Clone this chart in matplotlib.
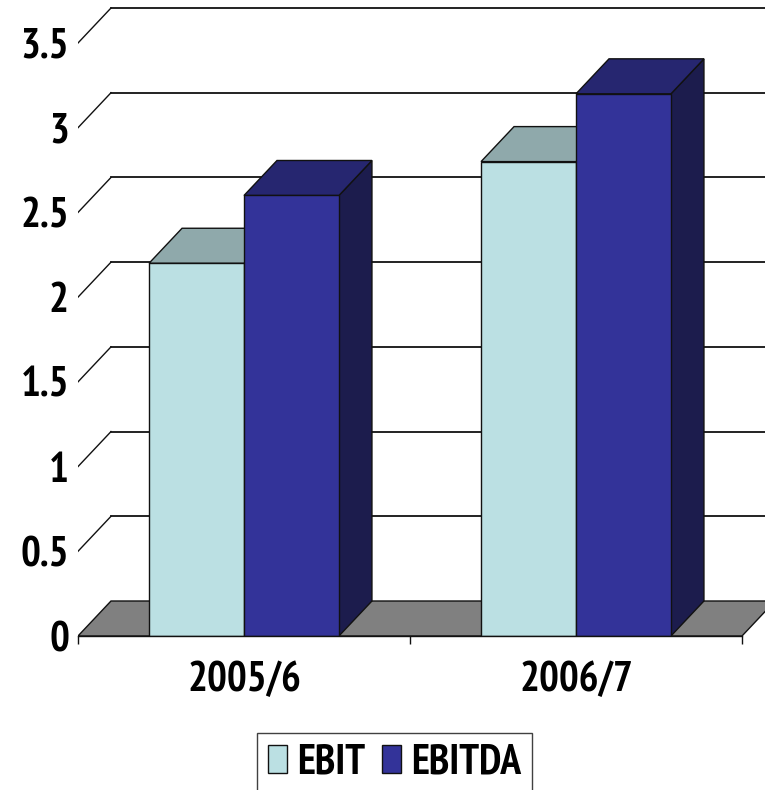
import matplotlib
matplotlib.use("Agg")
import matplotlib.pyplot as plt
from matplotlib.patches import Polygon, Patch
from matplotlib import font_manager

categories = ["2005/6", "2006/7"]
series_names = ["EBIT", "EBITDA"]
ebit = [2.2, 2.8]
ebitda = [2.6, 3.2]
y_ticks = [0, 0.5, 1, 1.5, 2, 2.5, 3, 3.5]
y_tick_labels = ["0", "0.5", "1", "1.5", "2", "2.5", "3", "3.5"]

front_colors = ["#BBE0E3", "#333399"]
top_colors = ["#8FA9AB", "#262670"]
side_colors = ["#8A9FA1", "#1C1C4D"]


def _weight(w):
    if isinstance(w, (int, float)):
        return w
    return {"bold": 700, "heavy": 800, "black": 900, "extra bold": 800,
            "semibold": 600, "demibold": 600}.get(str(w).lower(), 400)


# narrow bold sans for all labels, falling back to Liberation Sans
bold_names = {f.name for f in font_manager.fontManager.ttflist if _weight(f.weight) >= 700}
family = "Liberation Sans"
for cand in ["Liberation Sans Narrow", "Arial Narrow", "Arimo Narrow",
             "PT Sans Narrow", "Roboto Condensed", "Archivo Narrow",
             "Fira Sans Condensed", "IBM Plex Sans Condensed", "Encode Sans Condensed",
             "Asap Condensed", "Barlow Semi Condensed", "Sofia Sans Condensed",
             "Pragati Narrow", "Barlow Condensed"]:
    if cand in bold_names:
        family = cand
        break
plt.rcParams["font.family"] = [family, "DejaVu Sans"]
plt.rcParams["font.weight"] = "bold"

W, H, DPI = 765, 790, 100
fig = plt.figure(figsize=(W / DPI, H / DPI), dpi=DPI)
fig.patch.set_facecolor("white")

# front plane: category axis starts at 78 px, zero line at 636 px
ax_left, ax_bottom = 78, 636
ax = fig.add_axes([ax_left / W, (H - ax_bottom) / H, (W - ax_left) / W, ax_bottom / H])
px_per_x = 332.0
px_per_y = 593.0 / 3.5
ax.set_xlim(0, (W - ax_left) / px_per_x)
ax.set_ylim(0, ax_bottom / px_per_y)
ax.set_facecolor("white")

# oblique depth, expressed in data units
dx = 33 / px_per_x
dy = 35 / px_per_y
n_cat = len(categories)
bar_w = 0.286

# back-wall and side-wall gridlines
x_end = ax.get_xlim()[1] + 1
for v in y_ticks[1:]:
    ax.plot([dx, x_end], [v + dy, v + dy], color="#111111", lw=1.3, zorder=1)
    ax.plot([0, dx], [v, v + dy], color="#111111", lw=1.0, zorder=1)

# floor
floor = Polygon([(0, 0), (n_cat, 0), (n_cat + dx, dy), (dx, dy)], closed=True,
                facecolor="#808080", edgecolor="#111111", lw=1.0, zorder=2)
ax.add_patch(floor)


def draw_bar(x0, v, i):
    x1 = x0 + bar_w
    side = Polygon([(x1, 0), (x1 + dx, dy), (x1 + dx, v + dy), (x1, v)], closed=True,
                   facecolor=side_colors[i], edgecolor="#111111", lw=1.0, zorder=3)
    top = Polygon([(x0, v), (x1, v), (x1 + dx, v + dy), (x0 + dx, v + dy)], closed=True,
                  facecolor=top_colors[i], edgecolor="#111111", lw=1.0, zorder=3)
    front = Polygon([(x0, 0), (x1, 0), (x1, v), (x0, v)], closed=True,
                    facecolor=front_colors[i], edgecolor="#111111", lw=1.0, zorder=3)
    for p in (side, top, front):
        ax.add_patch(p)


for c in range(n_cat):
    center = c + 0.5
    for i, vals in enumerate([ebit, ebitda]):
        x0 = center - bar_w + i * bar_w
        draw_bar(x0, vals[c], i)

# axes styling
for s in ("top", "right", "left"):
    ax.spines[s].set_visible(False)
ax.spines["bottom"].set_bounds(0, n_cat)
ax.spines["bottom"].set_color("#111111")
ax.spines["bottom"].set_linewidth(1.0)
ax.spines["bottom"].set_zorder(4)

ax.set_yticks(y_ticks, y_tick_labels)
ax.tick_params(axis="y", length=0, pad=6.5, labelsize=30)
ax.set_xticks([c + 0.5 for c in range(n_cat)], categories)
ax.tick_params(axis="x", which="major", length=0, pad=18, labelsize=30)
ax.set_xticks(list(range(n_cat + 1)), minor=True)
ax.tick_params(axis="x", which="minor", length=6, width=1, direction="out", color="#111111")
for lab in ax.get_xticklabels() + ax.get_yticklabels():
    lab.set_fontweight("bold")

handles = [Patch(facecolor=front_colors[i], edgecolor="#111111", lw=1.0) for i in range(2)]
leg = fig.legend(handles, series_names, loc="upper center",
                 bbox_to_anchor=(394.5 / W, (H - 733) / H), borderaxespad=0, ncol=2,
                 prop={"size": 30, "weight": "bold"}, frameon=True, fancybox=False,
                 edgecolor="#111111", handlelength=0.45, handleheight=0.65,
                 handletextpad=0.25, columnspacing=0.4, borderpad=0.25)
leg.get_frame().set_linewidth(1.0)

fig.savefig("out.png", dpi=DPI, facecolor="white")
